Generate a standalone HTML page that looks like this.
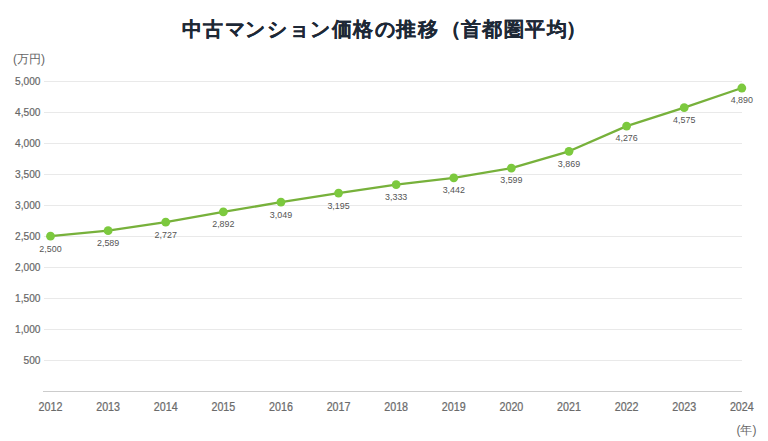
<!DOCTYPE html>
<html><head><meta charset="utf-8"><style>
html,body{margin:0;padding:0;background:#fff;width:768px;height:441px;overflow:hidden}
svg{display:block;position:absolute;left:0;top:0}
text{font-family:"Liberation Sans",sans-serif}
.yl{font-size:11.3px;fill:#666;stroke:#666;stroke-width:0.2px}
.xl{font-size:11.9px;fill:#6b6b6b;stroke:#6b6b6b;stroke-width:0.25px}
.dl{font-size:9.9px;fill:#555}
.title{font-size:19.5px;font-weight:bold;fill:#1d2836;stroke:#1d2836;stroke-width:0.15px}
.unit{font-size:12px;fill:#666}
</style></head><body>
<svg width="768" height="441" viewBox="0 0 768 441">
<text x="181.50 202.50 224.50 245.00 266.50 288.50 309.50 332.00 353.00 374.50 396.00 418.00 441.35 460.50 482.00 503.50 525.00 547.00 566.30" y="36" class="title">中古マンション価格の推移（首都圏平均）</text>
<text x="13" y="63" class="unit">(万円)</text>
<text x="736.5" y="434" class="unit">(年)</text>
<line x1="44" y1="360.5" x2="742" y2="360.5" stroke="#e9e9e9" stroke-width="1"/>
<text transform="translate(40.5,363.8) scale(0.9,1)" text-anchor="end" class="yl">500</text>
<line x1="44" y1="329.5" x2="742" y2="329.5" stroke="#e9e9e9" stroke-width="1"/>
<text transform="translate(40.5,332.8) scale(0.9,1)" text-anchor="end" class="yl">1,000</text>
<line x1="44" y1="298.5" x2="742" y2="298.5" stroke="#e9e9e9" stroke-width="1"/>
<text transform="translate(40.5,301.8) scale(0.9,1)" text-anchor="end" class="yl">1,500</text>
<line x1="44" y1="267.5" x2="742" y2="267.5" stroke="#e9e9e9" stroke-width="1"/>
<text transform="translate(40.5,270.8) scale(0.9,1)" text-anchor="end" class="yl">2,000</text>
<line x1="44" y1="236.5" x2="742" y2="236.5" stroke="#e9e9e9" stroke-width="1"/>
<text transform="translate(40.5,239.8) scale(0.9,1)" text-anchor="end" class="yl">2,500</text>
<line x1="44" y1="205.5" x2="742" y2="205.5" stroke="#e9e9e9" stroke-width="1"/>
<text transform="translate(40.5,208.8) scale(0.9,1)" text-anchor="end" class="yl">3,000</text>
<line x1="44" y1="174.5" x2="742" y2="174.5" stroke="#e9e9e9" stroke-width="1"/>
<text transform="translate(40.5,177.8) scale(0.9,1)" text-anchor="end" class="yl">3,500</text>
<line x1="44" y1="143.5" x2="742" y2="143.5" stroke="#e9e9e9" stroke-width="1"/>
<text transform="translate(40.5,146.8) scale(0.9,1)" text-anchor="end" class="yl">4,000</text>
<line x1="44" y1="112.5" x2="742" y2="112.5" stroke="#e9e9e9" stroke-width="1"/>
<text transform="translate(40.5,115.8) scale(0.9,1)" text-anchor="end" class="yl">4,500</text>
<line x1="44" y1="81.5" x2="742" y2="81.5" stroke="#e9e9e9" stroke-width="1"/>
<text transform="translate(40.5,84.8) scale(0.9,1)" text-anchor="end" class="yl">5,000</text>
<line x1="43" y1="391.5" x2="742" y2="391.5" stroke="#cccccc" stroke-width="1"/>
<text transform="translate(50.50,411) scale(0.9,1)" text-anchor="middle" class="xl">2012</text>
<text transform="translate(108.11,411) scale(0.9,1)" text-anchor="middle" class="xl">2013</text>
<text transform="translate(165.72,411) scale(0.9,1)" text-anchor="middle" class="xl">2014</text>
<text transform="translate(223.33,411) scale(0.9,1)" text-anchor="middle" class="xl">2015</text>
<text transform="translate(280.94,411) scale(0.9,1)" text-anchor="middle" class="xl">2016</text>
<text transform="translate(338.55,411) scale(0.9,1)" text-anchor="middle" class="xl">2017</text>
<text transform="translate(396.16,411) scale(0.9,1)" text-anchor="middle" class="xl">2018</text>
<text transform="translate(453.77,411) scale(0.9,1)" text-anchor="middle" class="xl">2019</text>
<text transform="translate(511.38,411) scale(0.9,1)" text-anchor="middle" class="xl">2020</text>
<text transform="translate(568.99,411) scale(0.9,1)" text-anchor="middle" class="xl">2021</text>
<text transform="translate(626.60,411) scale(0.9,1)" text-anchor="middle" class="xl">2022</text>
<text transform="translate(684.21,411) scale(0.9,1)" text-anchor="middle" class="xl">2023</text>
<text transform="translate(741.82,411) scale(0.9,1)" text-anchor="middle" class="xl">2024</text>
<polyline points="50.50,236.20 108.11,230.68 165.72,222.13 223.33,211.90 280.94,202.16 338.55,193.11 396.16,184.55 453.77,177.80 511.38,168.06 568.99,151.32 626.60,126.09 684.21,107.55 741.82,88.02" fill="none" stroke="#77b13b" stroke-width="2.3" stroke-linejoin="round"/>
<circle cx="50.50" cy="236.20" r="4.4" fill="#7cc93e"/>
<text transform="translate(50.50,251.60) scale(0.9,1)" text-anchor="middle" class="dl">2,500</text>
<circle cx="108.11" cy="230.68" r="4.4" fill="#7cc93e"/>
<text transform="translate(108.11,246.08) scale(0.9,1)" text-anchor="middle" class="dl">2,589</text>
<circle cx="165.72" cy="222.13" r="4.4" fill="#7cc93e"/>
<text transform="translate(165.72,237.53) scale(0.9,1)" text-anchor="middle" class="dl">2,727</text>
<circle cx="223.33" cy="211.90" r="4.4" fill="#7cc93e"/>
<text transform="translate(223.33,227.30) scale(0.9,1)" text-anchor="middle" class="dl">2,892</text>
<circle cx="280.94" cy="202.16" r="4.4" fill="#7cc93e"/>
<text transform="translate(280.94,217.56) scale(0.9,1)" text-anchor="middle" class="dl">3,049</text>
<circle cx="338.55" cy="193.11" r="4.4" fill="#7cc93e"/>
<text transform="translate(338.55,208.51) scale(0.9,1)" text-anchor="middle" class="dl">3,195</text>
<circle cx="396.16" cy="184.55" r="4.4" fill="#7cc93e"/>
<text transform="translate(396.16,199.95) scale(0.9,1)" text-anchor="middle" class="dl">3,333</text>
<circle cx="453.77" cy="177.80" r="4.4" fill="#7cc93e"/>
<text transform="translate(453.77,193.20) scale(0.9,1)" text-anchor="middle" class="dl">3,442</text>
<circle cx="511.38" cy="168.06" r="4.4" fill="#7cc93e"/>
<text transform="translate(511.38,183.46) scale(0.9,1)" text-anchor="middle" class="dl">3,599</text>
<circle cx="568.99" cy="151.32" r="4.4" fill="#7cc93e"/>
<text transform="translate(568.99,166.72) scale(0.9,1)" text-anchor="middle" class="dl">3,869</text>
<circle cx="626.60" cy="126.09" r="4.4" fill="#7cc93e"/>
<text transform="translate(626.60,141.49) scale(0.9,1)" text-anchor="middle" class="dl">4,276</text>
<circle cx="684.21" cy="107.55" r="4.4" fill="#7cc93e"/>
<text transform="translate(684.21,122.95) scale(0.9,1)" text-anchor="middle" class="dl">4,575</text>
<circle cx="741.82" cy="88.02" r="4.4" fill="#7cc93e"/>
<text transform="translate(741.82,103.42) scale(0.9,1)" text-anchor="middle" class="dl">4,890</text>
</svg>
</body></html>
